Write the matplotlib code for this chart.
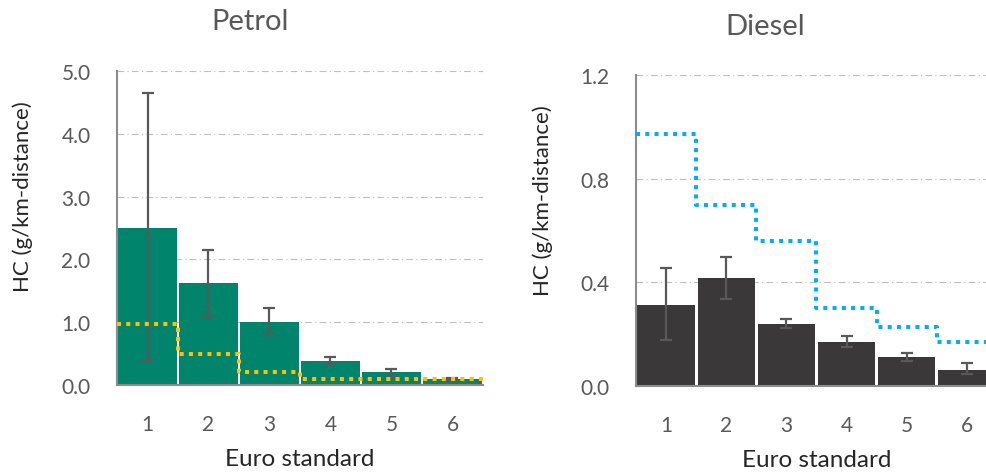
import matplotlib
matplotlib.use("Agg")
import matplotlib.pyplot as plt
import numpy as np

plt.rcParams['font.family'] = ['Lato', 'DejaVu Sans']

euro = [1, 2, 3, 4, 5, 6]

# Petrol: mean HC with asymmetric error range, and Euro HC limit
petrol_mean = [2.50, 1.62, 1.01, 0.38, 0.20, 0.09]
petrol_low = [0.38, 1.09, 0.80, 0.32, 0.13, 0.06]
petrol_high = [4.65, 2.15, 1.22, 0.44, 0.25, 0.11]
petrol_limit = [0.97, 0.49, 0.20, 0.10, 0.10, 0.10]

# Diesel
diesel_mean = [0.314, 0.416, 0.240, 0.169, 0.113, 0.064]
diesel_low = [0.180, 0.335, 0.223, 0.152, 0.096, 0.047]
diesel_high = [0.457, 0.497, 0.260, 0.194, 0.128, 0.088]
diesel_limit = [0.97, 0.70, 0.56, 0.30, 0.23, 0.17]

W, H = 987, 477
fig = plt.figure(figsize=(W / 100, H / 100), dpi=100)

TICK_C = '#595959'
TEXT_C = '#262626'


def panel(rect, mean, low, high, limit, bar_c, lim_c, ymax, yticks, fmt):
    ax = fig.add_axes(rect)
    x = np.array(euro)
    mean = np.array(mean)
    yerr = np.vstack([mean - np.array(low), np.array(high) - mean])
    ax.bar(x, mean, width=0.955, color=bar_c, zorder=2)
    ax.errorbar(x, mean, yerr=yerr, fmt='none', ecolor='#595959',
                elinewidth=1.6, capsize=4.5, capthick=1.6, zorder=3)
    edges = np.arange(0.5, 7.0, 1.0)
    ax.step(edges, list(limit) + [limit[-1]], where='post', color=lim_c,
            lw=2.9, linestyle=(0, (1.0, 1.3)), dash_capstyle='butt',
            zorder=4, clip_on=False)
    ax.set_xlim(0.5, 6.5)
    ax.set_ylim(0, ymax)
    ax.set_yticks(yticks)
    ax.set_yticklabels([fmt.format(v) for v in yticks])
    ax.set_xticks(x)
    ax.set_xticklabels([str(v) for v in euro])
    ax.grid(axis='y', color='#BFBFBF', lw=0.8, linestyle=(0, (6, 3, 1, 3)), zorder=0)
    for s in ('top', 'right'):
        ax.spines[s].set_visible(False)
    for s in ('left', 'bottom'):
        ax.spines[s].set_color('#8C8C8C')
        ax.spines[s].set_linewidth(1.5)
    ax.tick_params(axis='both', length=0, labelsize=15, labelcolor=TICK_C)
    ax.tick_params(axis='y', pad=19)
    ax.tick_params(axis='x', pad=21)
    ax.set_axisbelow(True)
    return ax


ax1 = panel([117 / W, 1 - 386 / H, 366 / W, 314 / H], petrol_mean, petrol_low,
            petrol_high, petrol_limit, '#00846C', '#FFC000', 5.0,
            [0, 1, 2, 3, 4, 5], '{:.1f}')
ax2 = panel([636 / W, 1 - 387.3 / H, 361 / W, 311.6 / H], diesel_mean, diesel_low,
            diesel_high, diesel_limit, '#3A3838', '#00B0F0', 1.2,
            [0, 0.4, 0.8, 1.2], '{:.1f}')

for ax in (ax1, ax2):
    ax.set_xlabel('Euro standard', fontsize=17.5, color=TEXT_C, labelpad=10)

fig.text(250 / W, 1 - 22 / H, 'Petrol', ha='center', va='center',
         fontsize=21, color=TICK_C)
fig.text(765 / W, 1 - 27 / H, 'Diesel', ha='center', va='center',
         fontsize=21, color=TICK_C)
fig.text(23 / W, 1 - 197 / H, 'HC (g/km-distance)', rotation=90, ha='center',
         va='center', fontsize=16, color=TEXT_C)
fig.text(543 / W, 1 - 201 / H, 'HC (g/km-distance)', rotation=90, ha='center',
         va='center', fontsize=16, color=TEXT_C)

fig.savefig('out.png', dpi=100, facecolor='white')
